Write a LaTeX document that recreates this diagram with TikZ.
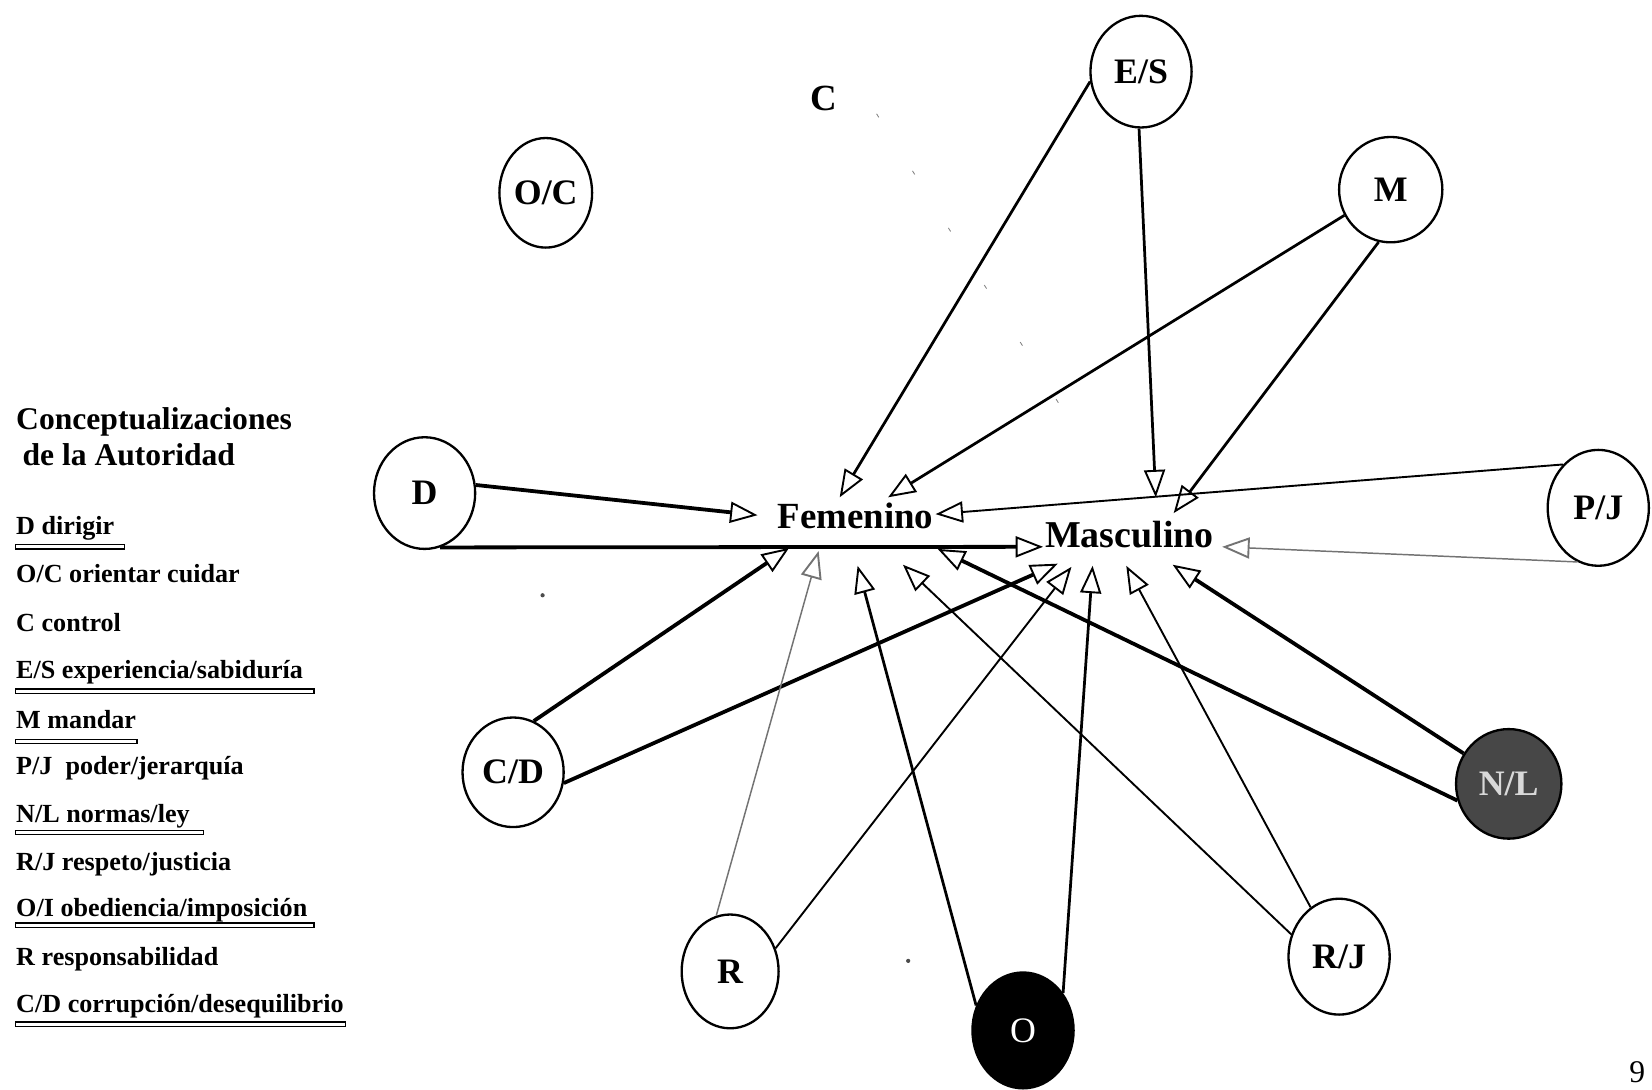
\documentclass[tikz,border=0pt]{standalone}
\usepackage{fontspec}
\setmainfont{Liberation Serif}
\usetikzlibrary{arrows.meta,shapes.geometric}
\begin{document}
\begin{tikzpicture}[x=0.5pt,y=-0.5pt,
  circ/.style={draw, ellipse, line width=1.1pt, inner sep=0pt, font=\fontsize{17}{20}\selectfont\bfseries},
  sz/.style n args={2}{minimum width=#1pt, minimum height=#2pt},
  lbl/.style={font=\fontsize{17.5}{20}\selectfont\bfseries, inner sep=0pt},
  hd/.style={anchor=base west, inner sep=0pt, font=\fontsize{15}{18}\selectfont\bfseries},
  leg/.style={anchor=base west, inner sep=0pt, font=\fontsize{12.4}{15}\selectfont\bfseries},
  ul/.style={line width=0.6pt},
  arr/.style={-{Triangle[open,length=13pt,width=10pt,line width=0.9pt]}},
  ethick/.style={arr, line width=1.8pt},
  emed/.style={arr, line width=1.3pt},
  ethin/.style={arr, line width=0.9pt},
  efaint/.style={arr, line width=0.7pt, draw=black!55},
  speck/.style={fill=black!70}
]
\useasboundingbox (0,0) rectangle (1568,1034);

% legend
\node[hd] (h1) at (15,408) {Conceptualizaciones};
\node[hd] (h2) at (21,442) {de la Autoridad};
\node[leg] (l1) at (15,507) {D dirigir};
\node[leg] (l2) at (15,553) {O/C orientar cuidar};
\node[leg] (l3) at (15,599) {C control};
\node[leg] (l4) at (15,644) {E/S experiencia/sabiduría};
\node[leg] (l5) at (15,691) {M mandar};
\node[leg] (l6) at (15,735) {P/J\ \ poder/jerarquía};
\node[leg] (l7) at (15,781) {N/L normas/ley};
\node[leg] (l8) at (15,826) {R/J respeto/justicia};
\node[leg] (l9) at (15,870) {O/I obediencia/imposición};
\node[leg] (l10) at (15,916) {R responsabilidad};
\node[leg] (l11) at (15,961) {C/D corrupción/desequilibrio};
\draw[ul] (15,517) rectangle (118,521);
\draw[ul] (15,654) rectangle (298,658);
\draw[ul] (15,702) rectangle (130,706);
\draw[ul] (15,788) rectangle (193,792);
\draw[ul] (15,876) rectangle (298,880);
\draw[ul] (15,970) rectangle (328,974);

% nodes
\node[circ, sz={44}{52}] (OC) at (518,183) {O/C};
\node[circ, sz={48}{53}] (ES) at (1083,68) {E/S};
\node[circ, sz={49}{50}] (M) at (1320,180) {M};
\node[circ, sz={48}{53}] (D) at (403,468) {D};
\node[circ, sz={48}{55}] (PJ) at (1517,482) {P/J};
\node[circ, sz={48}{52}] (CD) at (487,733) {C/D};
\node[circ, sz={50}{52}, fill=black!72, text=black!15] (NL) at (1432,744) {N/L};
\node[circ, sz={46}{54}] (R) at (693,922) {R};
\node[circ, sz={48}{55}, fill=black, text=white, font=\fontsize{17}{20}\selectfont] (O) at (971,978) {O};
\node[circ, sz={48}{55}] (RJ) at (1271,908) {R/J};
\node[lbl] (C) at (782,93) {C};

\node[lbl] (fem) at (812,490) {Femenino};
\node[lbl, font=\fontsize{18}{20}\selectfont\bfseries] (mas) at (1072,507) {Masculino};

% arrow tips
\coordinate (t1) at (797,472);
\coordinate (t2) at (1097,472);
\coordinate (t3) at (843,472);
\coordinate (t4) at (1114,487);
\coordinate (t5) at (888,488);
\coordinate (t6) at (1160,519);
\coordinate (t7) at (719,489);
\coordinate (t8) at (990,519);
\coordinate (t9) at (749,520);
\coordinate (t10) at (1004,535);
\coordinate (t11) at (777,523);
\coordinate (t12) at (1017,538);
\coordinate (t13) at (814,537);
\coordinate (t14) at (1037,537);
\coordinate (t15) at (857,536);
\coordinate (t16) at (1069,537);
\coordinate (t17) at (890,521);
\coordinate (t18) at (1113,536);

% connectors
\draw[emed] (ES.191) -- (t1);
\draw[emed] (ES.268) -- (t2);
\draw[emed] (M.209) -- (t3);
\draw[emed] (M.257) -- (t4);
\draw[ethin] (PJ.129) -- (t5);
\draw[efaint] (PJ.249) -- (t6);
\draw[ethick] (D.9) -- (t7);
\draw[ethick] (D.286) -- (t8);
\draw[ethick] (CD.68) -- (t9);
\draw[ethick] (CD.348) -- (t10);
\draw[efaint] (R.104) -- (t11);
\draw[ethin] (R.27) -- (t12);
\draw[emed] (O.152) -- (t13);
\draw[emed] (O.43) -- (t14);
\draw[ethin] (RJ.155) -- (t15);
\draw[ethin] (RJ.120) -- (t16);
\draw[ethick] (NL.198) -- (t17);
\draw[ethick] (NL.146) -- (t18);

% faint specks
\fill[speck] (515,565) circle (1pt);
\fill[speck] (862,912) circle (1pt);
\draw[black!50, line width=0.4pt, dash pattern=on 2pt off 30pt] (832,108) -- (1022,410);

% page number
\node[anchor=south east, inner sep=0pt, font=\fontsize{15}{18}\selectfont] (pg) at (1562,1028) {9};
\end{tikzpicture}
\end{document}
